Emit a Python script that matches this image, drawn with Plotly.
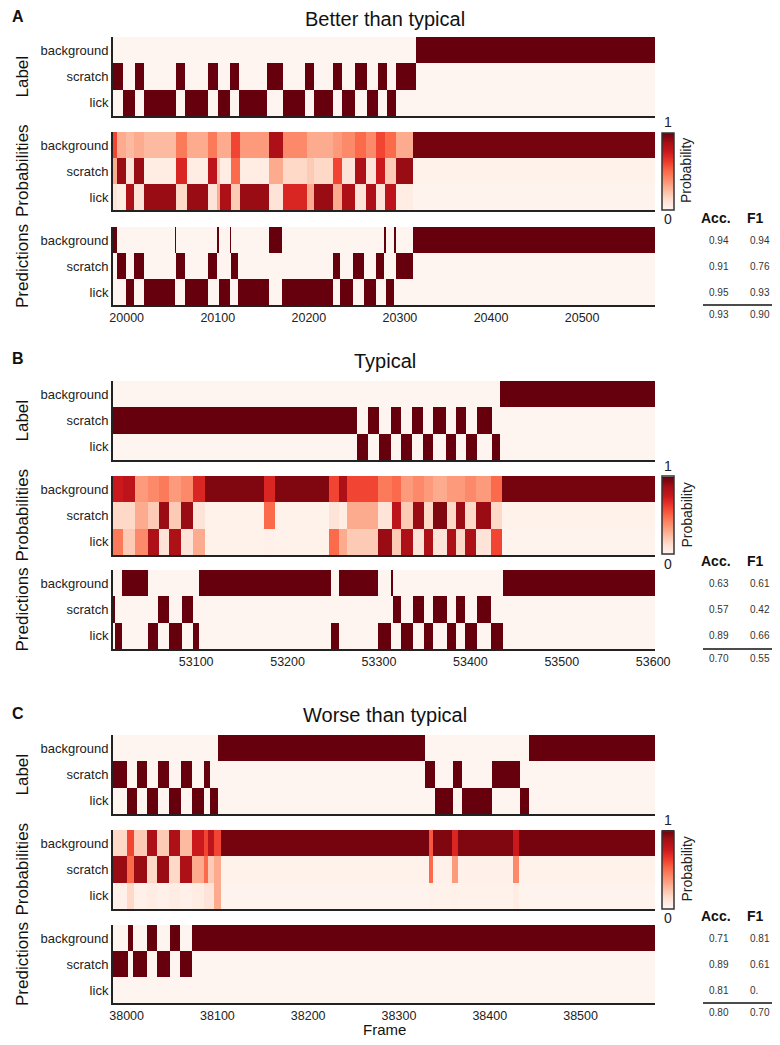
import plotly.graph_objects as go

OFF = 8                      # page body margin
W, H = 780 - 2 * OFF, 1045 - 2 * OFF
ROWS = ["background", "scratch", "lick"]

# ---------------- Panel A ----------------
A_title = "Better than typical"
A_ticks = [20000, 20100, 20200, 20300, 20400, 20500]
A_label_edges = [19985, 19996, 20009, 20019, 20054, 20064, 20089, 20100, 20113, 20123, 20154,
                 20172, 20196, 20206, 20226, 20236, 20251, 20264, 20276, 20286, 20296, 20318, 20580]
A_label_class = ["scratch", "lick", "scratch", "lick", "scratch", "lick", "scratch", "lick",
                 "scratch", "lick", "scratch", "lick", "scratch", "lick", "scratch", "lick",
                 "scratch", "lick", "scratch", "lick", "scratch", "background"]
A_pred_edges = [19985, 19989, 19999, 20008, 20019, 20053, 20054, 20064, 20089, 20099, 20101,
                20113, 20115, 20122, 20156, 20170, 20227, 20234, 20249, 20261, 20274, 20282,
                20285, 20294, 20296, 20314, 20580]
A_pred_class = ["background", "scratch", "lick", "scratch", "lick", "background", "scratch",
                "lick", "scratch", "background", "lick", "background", "scratch", "lick",
                "background", "lick", "scratch", "lick", "scratch", "lick", "scratch",
                "background", "lick", "background", "scratch", "background"]
A_prob_edges = [19984, 19988, 19998, 20007, 20018, 20053, 20065, 20089, 20098, 20102, 20114,
                20124, 20155, 20171, 20197, 20205, 20226, 20236, 20250, 20262, 20273, 20283,
                20295, 20314, 20580]
A_prob_bg = [0.6, 0.3, 0.25, 0.3, 0.25, 0.45, 0.3, 0.45, 0.3, 0.3, 0.6, 0.35, 0.85, 0.4,
             0.3, 0.3, 0.35, 0.4, 0.5, 0.4, 0.6, 0.5, 0.3, 0.97]
A_prob_scratch = [0.3, 0.9, 0.1, 0.9, 0.05, 0.7, 0.05, 0.8, 0.2, 0.05, 0.5, 0.05, 0.3, 0.15,
                  0.2, 0.15, 0.6, 0.1, 0.85, 0.1, 0.75, 0.2, 0.9, 0.02]
A_prob_lick = [0.1, 0.05, 0.85, 0.1, 0.9, 0.15, 0.9, 0.1, 0.3, 0.85, 0.2, 0.9, 0.1, 0.7,
               0.3, 0.9, 0.3, 0.85, 0.1, 0.85, 0.1, 0.8, 0.05, 0.01]
A_acc = ["0.94", "0.91", "0.95"]
A_f1 = ["0.94", "0.76", "0.93"]
A_mean = ["0.93", "0.90"]

# ---------------- Panel B ----------------
B_title = "Typical"
B_ticks = [53100, 53200, 53300, 53400, 53500, 53600]
B_label_edges = [53010, 53277, 53289, 53301, 53314, 53325, 53337, 53349, 53359, 53374, 53385,
                 53396, 53408, 53424, 53433, 53602]
B_label_class = ["scratch", "lick", "scratch", "lick", "scratch", "lick", "scratch", "lick",
                 "scratch", "lick", "scratch", "lick", "scratch", "lick", "background"]
B_pred_edges = [53009, 53011, 53019, 53047, 53058, 53070, 53084, 53097, 53103, 53247, 53256,
                53299, 53313, 53315, 53324, 53337, 53349, 53359, 53374, 53384, 53394, 53407,
                53423, 53436, 53602]
B_pred_class = ["scratch", "lick", "background", "lick", "scratch", "lick", "scratch", "lick",
                "background", "lick", "background", "lick", "background", "scratch", "lick",
                "scratch", "lick", "scratch", "lick", "scratch", "lick", "scratch", "lick",
                "background"]
B_prob_edges = [53009, 53020, 53033, 53047, 53059, 53070, 53083, 53097, 53110, 53174, 53186,
                53245, 53256, 53265, 53299, 53314, 53324, 53337, 53349, 53359, 53374, 53384,
                53394, 53406, 53423, 53435, 53602]
B_prob_bg = [0.75, 0.8, 0.35, 0.4, 0.45, 0.35, 0.4, 0.7, 0.95, 0.7, 0.95, 0.6, 0.85, 0.6,
             0.45, 0.5, 0.35, 0.4, 0.35, 0.3, 0.35, 0.35, 0.4, 0.35, 0.5, 0.97]
B_prob_scratch = [0.15, 0.15, 0.3, 0.2, 0.9, 0.2, 0.9, 0.1, 0.02, 0.5, 0.02, 0.1, 0.05, 0.3,
                  0.1, 0.8, 0.2, 0.9, 0.15, 0.95, 0.15, 0.9, 0.15, 0.9, 0.15, 0.02]
B_prob_lick = [0.45, 0.2, 0.4, 0.85, 0.1, 0.85, 0.1, 0.3, 0.02, 0.03, 0.02, 0.5, 0.3, 0.2,
               0.9, 0.2, 0.85, 0.1, 0.85, 0.1, 0.85, 0.15, 0.85, 0.1, 0.6, 0.01]
B_acc = ["0.63", "0.57", "0.89"]
B_f1 = ["0.61", "0.42", "0.66"]
B_mean = ["0.70", "0.55"]

# ---------------- Panel C ----------------
C_title = "Worse than typical"
C_ticks = [38000, 38100, 38200, 38300, 38400, 38500]
C_label_edges = [37985, 38000, 38011, 38022, 38035, 38047, 38060, 38072, 38085, 38092, 38101,
                 38329, 38340, 38360, 38369, 38403, 38433, 38443, 38582]
C_label_class = ["scratch", "lick", "scratch", "lick", "scratch", "lick", "scratch", "lick",
                 "scratch", "lick", "background", "scratch", "lick", "scratch", "lick",
                 "scratch", "lick", "background"]
C_pred_edges = [37985, 38001, 38007, 38022, 38033, 38048, 38059, 38072, 38582]
C_pred_class = ["scratch", "background", "scratch", "background", "scratch", "background",
                "scratch", "background"]
C_prob_edges = [37985, 38000, 38008, 38022, 38033, 38047, 38059, 38072, 38085, 38090, 38096,
                38104, 38333, 38338, 38358, 38365, 38426, 38432, 38582]
C_prob_bg = [0.15, 0.6, 0.2, 0.85, 0.2, 0.85, 0.25, 0.75, 0.6, 0.8, 0.6, 0.97, 0.55, 0.95,
             0.7, 0.95, 0.75, 0.97]
C_prob_scratch = [0.9, 0.5, 0.9, 0.15, 0.9, 0.15, 0.85, 0.3, 0.5, 0.2, 0.3, 0.02, 0.5, 0.03,
                  0.35, 0.03, 0.4, 0.02]
C_prob_lick = [0.03, 0.15, 0.03, 0.05, 0.03, 0.05, 0.03, 0.05, 0.1, 0.1, 0.3, 0.01, 0.03,
               0.02, 0.03, 0.02, 0.05, 0.01]
C_acc = ["0.71", "0.89", "0.81"]
C_f1 = ["0.81", "0.61", "0."]
C_mean = ["0.80", "0.70"]

# ---------------- layout geometry (target pixels in the page) ----------------
X0, X1 = 113, 655
panels = [
    dict(letter="A", title=A_title, ty=19, ticks=A_ticks,
         label=(A_label_edges, A_label_class), pred=(A_pred_edges, A_pred_class),
         prob=(A_prob_edges, A_prob_bg, A_prob_scratch, A_prob_lick),
         acc=A_acc, f1=A_f1, mean=A_mean,
         boxes=[(37, 116), (132, 210), (227, 305)]),
    dict(letter="B", title=B_title, ty=361, ticks=B_ticks,
         label=(B_label_edges, B_label_class), pred=(B_pred_edges, B_pred_class),
         prob=(B_prob_edges, B_prob_bg, B_prob_scratch, B_prob_lick),
         acc=B_acc, f1=B_f1, mean=B_mean,
         boxes=[(381, 460), (476, 555), (570, 649)]),
    dict(letter="C", title=C_title, ty=715, ticks=C_ticks,
         label=(C_label_edges, C_label_class), pred=(C_pred_edges, C_pred_class),
         prob=(C_prob_edges, C_prob_bg, C_prob_scratch, C_prob_lick),
         acc=C_acc, f1=C_f1, mean=C_mean,
         boxes=[(735, 814), (830, 909), (925, 1003)]),
]

FONT = "Liberation Sans, Arial, sans-serif"
REDS = "Reds"


def fx(p):
    return (p - OFF) / W


def fy(p):
    return 1 - (p - OFF) / H


def onehot(classes):
    return [[1.0 if c == r else 0.0 for c in classes] for r in ROWS]


def note(x, y, text, size, color="#111", xanchor="center", **kw):
    return dict(x=fx(x), y=fy(y), xref="paper", yref="paper", text=text, showarrow=False,
                xanchor=xanchor, yanchor="middle",
                font=dict(size=size, color=color, family=FONT), **kw)


fig = go.Figure()
annotations = []
shapes = []
layout_axes = {}
k = 0
for P in panels:
    kinds = ["Label", "Probabilities", "Predictions"]
    for j, kind in enumerate(kinds):
        k += 1
        top, bot = P["boxes"][j]
        if kind == "Label":
            edges, cls = P["label"]
            z = onehot(cls)
        elif kind == "Predictions":
            edges, cls = P["pred"]
            z = onehot(cls)
        else:
            edges, pb, ps, pl = P["prob"]
            z = [pb, ps, pl]
        xa = "x" if k == 1 else f"x{k}"
        ya = "y" if k == 1 else f"y{k}"
        tr = go.Heatmap(
            x=edges, y=[0, 1, 2], z=z, zmin=0, zmax=1, colorscale=REDS,
            xaxis=xa, yaxis=ya, hoverinfo="skip",
            showscale=(kind == "Probabilities"),
        )
        if kind == "Probabilities":
            tr.colorbar = dict(
                x=fx(662), xanchor="left", y=fy((top + bot) / 2), yanchor="middle",
                len=bot - top - 1, lenmode="pixels", thickness=12, thicknessmode="pixels",
                outlinewidth=1.5, outlinecolor="#333", showticklabels=False, ticks="",
                xpad=0, ypad=0,
            )
            annotations += [
                note(668, top - 10, "1", 14, "#222"),
                note(668, bot + 9, "0", 14, "#222"),
                note(686, (top + bot) / 2, "Probability", 14, "#222", textangle=-90),
            ]
        fig.add_trace(tr)
        xkey = "xaxis" if k == 1 else f"xaxis{k}"
        ykey = "yaxis" if k == 1 else f"yaxis{k}"
        layout_axes[xkey] = dict(
            domain=[fx(X0), fx(X1)], anchor=ya, range=[edges[0], edges[-1]],
            showgrid=False, zeroline=False, showline=True, linecolor="#222", linewidth=2,
            ticks="", tickvals=P["ticks"], tickformat="d", automargin=False,
            showticklabels=(kind == "Predictions"),
            tickfont=dict(size=12.5, color="#222", family=FONT),
        )
        layout_axes[ykey] = dict(
            domain=[fy(bot), fy(top)], anchor=xa, range=[2.5, -0.5], automargin=False,
            showgrid=False, zeroline=False, showline=True, linecolor="#222", linewidth=2,
            ticks="", tickvals=[0, 1, 2], ticktext=ROWS,
            tickfont=dict(size=13, color="#222", family=FONT),
        )
        annotations.append(note(22, (top + bot) / 2, kind, 17, textangle=-90))
    # title & letter
    annotations.append(note(385, P["ty"], P["title"], 20))
    annotations.append(note(10, P["ty"] - 2, "<b>" + P["letter"] + "</b>", 16,
                            xanchor="left"))
    # table
    ptop, pbot = P["boxes"][2]
    rowh = (pbot - ptop) / 3
    annotations.append(note(716, ptop - 9, "<b>Acc.</b>", 14))
    annotations.append(note(755, ptop - 9, "<b>F1</b>", 14))
    for i in range(3):
        yc = ptop + rowh * (i + 0.5)
        annotations.append(note(707, yc, P["acc"][i], 10, "#333", xanchor="left"))
        annotations.append(note(748, yc, P["f1"][i], 10, "#333", xanchor="left"))
    annotations.append(note(707, pbot + 9, P["mean"][0], 10, "#333", xanchor="left"))
    annotations.append(note(748, pbot + 9, P["mean"][1], 10, "#333", xanchor="left"))
    shapes.append(dict(type="line", xref="paper", yref="paper", x0=fx(703), x1=fx(772),
                       y0=fy(pbot), y1=fy(pbot), line=dict(color="#111", width=1.5)))

annotations.append(note(384, 1029, "Frame", 15))

fig.update_layout(
    width=W, height=H, autosize=False,
    margin=dict(l=0, r=0, t=0, b=0, pad=0, autoexpand=False),
    paper_bgcolor="white", plot_bgcolor="white",
    font=dict(family=FONT, color="#222"),
    annotations=annotations, shapes=shapes, **layout_axes,
)
fig.write_html("out.html")
